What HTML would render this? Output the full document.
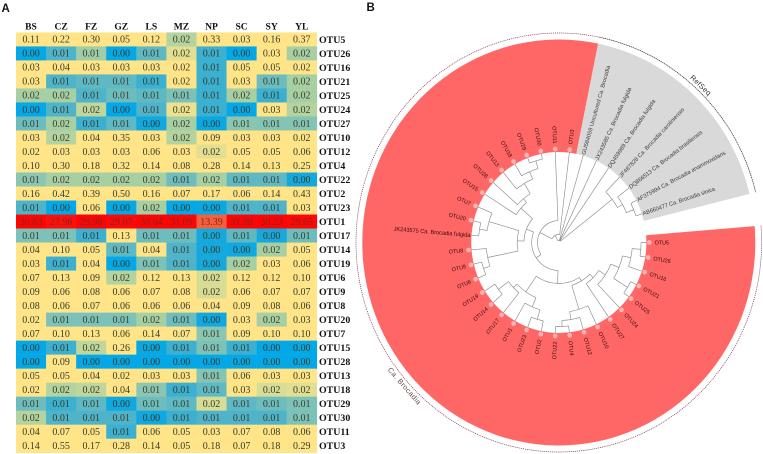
<!DOCTYPE html>
<html lang="en">
<head>
<meta charset="utf-8">
<title>OTU heatmap and phylogenetic tree</title>
<style>
html,body{margin:0;padding:0;background:#fff;}
body{width:763px;height:454px;overflow:hidden;position:relative;}
svg{display:block;position:absolute;left:0;top:0;}
.serif{font-family:"Liberation Serif",serif;}
.sans{font-family:"Liberation Sans",sans-serif;}
</style>
</head>
<body>
<svg id="fig" width="763" height="454" viewBox="0 0 763 454" xmlns="http://www.w3.org/2000/svg">
  <text class="sans" x="1.5" y="12" font-size="11.5" font-weight="bold" fill="#111">A</text>
  <text class="sans" x="366.5" y="11" font-size="11.5" font-weight="bold" fill="#111">B</text>
  <g id="heatmap"></g>
  <g id="tree" transform="translate(558.8 242.5) scale(0.968 1)"></g>
</svg>
<script>
// ---------- heatmap data ----------
var sites = ["BS","CZ","FZ","GZ","LS","MZ","NP","SC","SY","YL"];
var otus = ["OTU5","OTU26","OTU16","OTU21","OTU25","OTU24","OTU27","OTU10","OTU12","OTU4","OTU22","OTU2","OTU23","OTU1","OTU17","OTU14","OTU19","OTU6","OTU9","OTU8","OTU20","OTU7","OTU15","OTU28","OTU13","OTU18","OTU29","OTU30","OTU11","OTU3"];
var abundance = [
[.11,.22,.30,.05,.12,.017,.33,.03,.16,.37],
[.001,.007,.015,.001,.008,.021,.006,.001,.03,.016],
[.03,.04,.03,.03,.03,.024,.006,.05,.05,.024],
[.03,.007,.008,.008,.006,.024,.006,.03,.009,.016],
[.016,.016,.007,.009,.008,.01,.006,.016,.006,.016],
[.001,.007,.018,.001,.007,.022,.006,.001,.03,.017],
[.009,.016,.006,.008,.003,.016,.002,.012,.011,.011],
[.03,.017,.04,.35,.03,.017,.09,.03,.03,.024],
[.024,.03,.03,.03,.06,.03,.021,.05,.05,.06],
[.10,.30,.18,.32,.14,.08,.28,.14,.13,.25],
[.012,.016,.016,.016,.016,.009,.016,.008,.008,.004],
[.16,.42,.39,.50,.16,.07,.17,.06,.14,.43],
[.007,.001,.06,.001,.016,.001,.002,.007,.007,.03],
[30.83,27.96,29.98,29.07,30.64,31.09,13.39,31.08,30.23,29.65],
[.01,.01,.006,.13,.009,.009,.004,.008,.004,.009],
[.04,.10,.05,.008,.04,.007,.004,.003,.016,.05],
[.03,.006,.04,.001,.01,.007,.004,.016,.03,.06],
[.07,.13,.09,.017,.12,.13,.02,.12,.12,.10],
[.09,.06,.08,.06,.07,.08,.02,.06,.07,.07],
[.08,.06,.07,.06,.06,.06,.04,.09,.08,.06],
[.024,.01,.01,.01,.016,.009,.003,.03,.016,.03],
[.07,.10,.13,.06,.14,.07,.012,.09,.10,.10],
[.001,.006,.018,.26,.002,.006,.01,.006,.001,.001],
[.001,.09,.001,.001,.001,.001,.001,.001,.001,.001],
[.05,.05,.04,.024,.03,.03,.011,.06,.03,.03],
[.024,.017,.018,.04,.012,.006,.008,.03,.02,.021],
[.009,.006,.008,.003,.009,.008,.02,.008,.009,.01],
[.017,.007,.007,.007,.003,.006,.007,.007,.007,.01],
[.04,.07,.05,.006,.06,.05,.03,.07,.08,.06],
[.14,.55,.17,.28,.14,.05,.18,.07,.18,.29]
];
var colorStops = [0,.004,.007,.01,.016,.02,.024,1,13.39,30];
var colorRamp = ["#00a8ea","#14a8dc","#4fb4ca","#7cc2b8","#a6cfa4","#d8dd95","#ffe488","#ffe488","#f2603c","#fb0606"];

// ---------- tree data ----------
var tipNames = ["OTU5","OTU26","OTU16","OTU21","OTU25","OTU24","OTU27","OTU10","OTU12","OTU4","OTU22","OTU2","OTU23","OTU1","OTU17","OTU14","OTU19","OTU6","OTU9","OTU8",
"JK243575 Ca. Brocadia fulgida","OTU20","OTU7","OTU15","OTU28","OTU13","OTU18","OTU29","OTU30","OTU11","OTU3",
"GU584059 Uncultured Ca. Brocadia","JX243585 Ca. Brocadia fulgida","DQ459989 Ca. Brocadia fulgida","JF487828 Ca. Brocadia caroliniensis","DQ866513 Ca. Brocadia brasiliensis","AF375994 Ca. Brocadia anammoxidans","AB660477 Ca. Brocadia sinica"];
// node = [radius, child, child...]; a child that is a number is an index into tipNames
var cladeA = [45,[50,[58,[67,[76,[85,0,1],2],[84,3,4]],5],6],[70,7,[78,8,[84,9,10]]]];
var cladeB = [60,[70,[80,11,12],13],[65,14,[78,15,16]]];
var cladeC = [75,[82,17,18],19];
var cladeD = [75,[83,20,21],22];
var cladeE = [52,23,[57,24,[69,25,[77,26,[85,27,28]]]]];
var cladeRef = [70,34,[76,35,[84,36,37]]];
var treeRoot = [2,[8,[22,[28,[41,cladeA,cladeB],[36,[43,cladeC,cladeD],cladeE]],29],30],31,32,33,cladeRef];
var groupLabels = ["Ca. Brocadia","RefSeq"];

// ---------- heatmap drawing ----------
var NS = "http://www.w3.org/2000/svg";
function mk(tag, parent, attrs){
  var e = document.createElementNS(NS, tag);
  for (var k in attrs) e.setAttribute(k, attrs[k]);
  parent.appendChild(e);
  return e;
}
function hexRgb(h){return [parseInt(h.substr(1,2),16),parseInt(h.substr(3,2),16),parseInt(h.substr(5,2),16)];}
function heatColor(v){
  for (var i = 1; i < colorStops.length; i++){
    if (v <= colorStops[i]){
      var t = (v - colorStops[i-1]) / (colorStops[i] - colorStops[i-1]);
      var a = hexRgb(colorRamp[i-1]), b = hexRgb(colorRamp[i]);
      return "rgb(" + [0,1,2].map(function(c){return Math.round(a[c] + (b[c]-a[c])*t);}).join(",") + ")";
    }
  }
  return colorRamp[colorRamp.length-1];
}
var hm = document.getElementById("heatmap");
var hmX = 16, hmY = 32.4, cellW = 30.08, cellH = 14.01;
function colX(c){return hmX + c*cellW;}
function rowY(r){return hmY + r*cellH;}

sites.forEach(function(s, c){
  var t = mk("text", hm, {x: colX(c)+cellW/2, y: 29.5, "text-anchor":"middle", "font-size":"9.6", "font-weight":"bold", fill:"#111", "class":"serif"});
  
  
  t.textContent = s;
});
abundance.forEach(function(row, r){
  row.forEach(function(v, c){
    var rect = mk("rect", hm, {x: colX(c), y: rowY(r), width: cellW+0.3, height: cellH+0.3, fill: heatColor(v)});
    
    
  });
});
abundance.forEach(function(row, r){
  row.forEach(function(v, c){
    var t = mk("text", hm, {x: colX(c)+cellW/2, y: rowY(r)+cellH/2+3.3, "text-anchor":"middle", "font-size":"10", fill: v > 1 ? "#8a2416" : "#3a3a28", "class":"serif"});
    
    
    t.textContent = v.toFixed(2);
  });
  var lab = mk("text", hm, {x: 319, y: rowY(r)+cellH/2+3.4, "font-size":"9.9", "font-weight":"bold", fill:"#111", "class":"serif"});
  
  
  lab.textContent = otus[r];
});

// ---------- tree drawing ----------
var tr = document.getElementById("tree");
var startAngle = 90, step = 360/39, rInner = 90.5, rOuter = 203, rDots = 209.5, rTip = 93.5, rLabel = 99, rLeaf = 91;
function tipAngle(i){return startAngle + i*step;}
function px(r,a){return r*Math.sin(a*Math.PI/180);}
function py(r,a){return -r*Math.cos(a*Math.PI/180);}
function f(n){return n.toFixed(2);}
function arcTo(r,a1,a2){
  return "A"+r+" "+r+" 0 "+((a2-a1)>180?1:0)+" 1 "+f(px(r,a2))+" "+f(py(r,a2));
}
function sector(a1,a2,r0,r1){
  return "M"+f(px(r1,a1))+" "+f(py(r1,a1))+arcTo(r1,a1,a2)+"L"+f(px(r0,a2))+" "+f(py(r0,a2))+
    "A"+r0+" "+r0+" 0 "+((a2-a1)>180?1:0)+" 0 "+f(px(r0,a1))+" "+f(py(r0,a1))+"Z";
}
var redFirst = 0, redLast = 30, refFirst = 31, refLast = 37;
var redSector = mk("path", tr, {d: sector(tipAngle(redFirst)-step/2, tipAngle(redLast)+step/2, rInner, rOuter), fill:"#ff6666"});


var greySector = mk("path", tr, {d: sector(tipAngle(refFirst)-step/2, tipAngle(refLast)+step/2, rInner, rOuter), fill:"#d9d9d9"});



var a1r = tipAngle(redFirst)-step/2, a2r = tipAngle(redLast)+step/2;
var redArc = mk("path", tr, {d:"M"+f(px(rDots,a1r))+" "+f(py(rDots,a1r))+arcTo(rDots,a1r,a2r), fill:"none", stroke:"#7a3048", "stroke-width":"0.7", "stroke-dasharray":"1.1 0.9"});


var a1g = tipAngle(refFirst)-step/2, a2g = tipAngle(refLast)+step/2;
var greyArc = mk("path", tr, {d:"M"+f(px(rDots,a1g))+" "+f(py(rDots,a1g))+arcTo(rDots,a1g,a2g), fill:"none", stroke:"#2a2a2a", "stroke-width":"0.7", "stroke-dasharray":"1.4 0.6"});



var branchD = "";
function layout(node, parentR){
  if (typeof node === "number"){
    var a = tipAngle(node);
    branchD += "M"+f(px(parentR,a))+" "+f(py(parentR,a))+"L"+f(px(rLeaf,a))+" "+f(py(rLeaf,a));
    return a;
  }
  var r = node[0], angs = [];
  for (var i = 1; i < node.length; i++) angs.push(layout(node[i], r));
  var lo = angs[0], hi = angs[angs.length-1];
  branchD += "M"+f(px(r,lo))+" "+f(py(r,lo))+arcTo(r,lo,hi);
  var mid = (lo+hi)/2;
  if (parentR !== null) branchD += "M"+f(px(parentR,mid))+" "+f(py(parentR,mid))+"L"+f(px(r,mid))+" "+f(py(r,mid));
  return mid;
}
layout(treeRoot, null);
var branches = mk("path", tr, {d: branchD, fill:"none", stroke:"#8a8a8a", "stroke-width":"0.65"});



tipNames.forEach(function(name, i){
  var a = tipAngle(i), isOtu = name.indexOf("OTU") === 0;
  if (isOtu){
    var dot = mk("circle", tr, {cx: f(px(rTip,a)), cy: f(py(rTip,a)), r: 2.4, fill:"#ffb4b4"});
    
    
  }
  var norm = ((a % 360) + 360) % 360, right = norm < 180, rr = isOtu ? rLabel : rInner + 1;
  var rot = right ? norm - 90 : norm + 90;
  var x = px(rr,a), y = py(rr,a);
  var t = mk("text", tr, {x: 0, y: 0, transform: "translate("+f(x)+" "+f(y)+") rotate("+f(rot)+") translate(0 1.9)", "text-anchor": right ? "start" : "end", "font-size": isOtu ? "5.6" : "5.8", fill: (i >= refFirst) ? "#3a3a3a" : "#3a0a0e", "class":"sans"});
  
  
  t.textContent = name;
});

var g1 = mk("text", tr, {x:0, y:0, transform:"translate("+f(px(214.5,228))+" "+f(py(214.5,228))+") rotate(48) translate(0 2.5)", "text-anchor":"middle", "font-size":"7.4", "letter-spacing":"0.4", fill:"#6a4a4a", "class":"sans"});


g1.textContent = groupLabels[0];
var g2 = mk("text", tr, {x:0, y:0, transform:"translate("+f(px(215,43))+" "+f(py(215,43))+") rotate(43) translate(0 2.5)", "text-anchor":"middle", "font-size":"7.4", "letter-spacing":"0.3", fill:"#333", "class":"sans"});


g2.textContent = groupLabels[1];
</script>
</body>
</html>
